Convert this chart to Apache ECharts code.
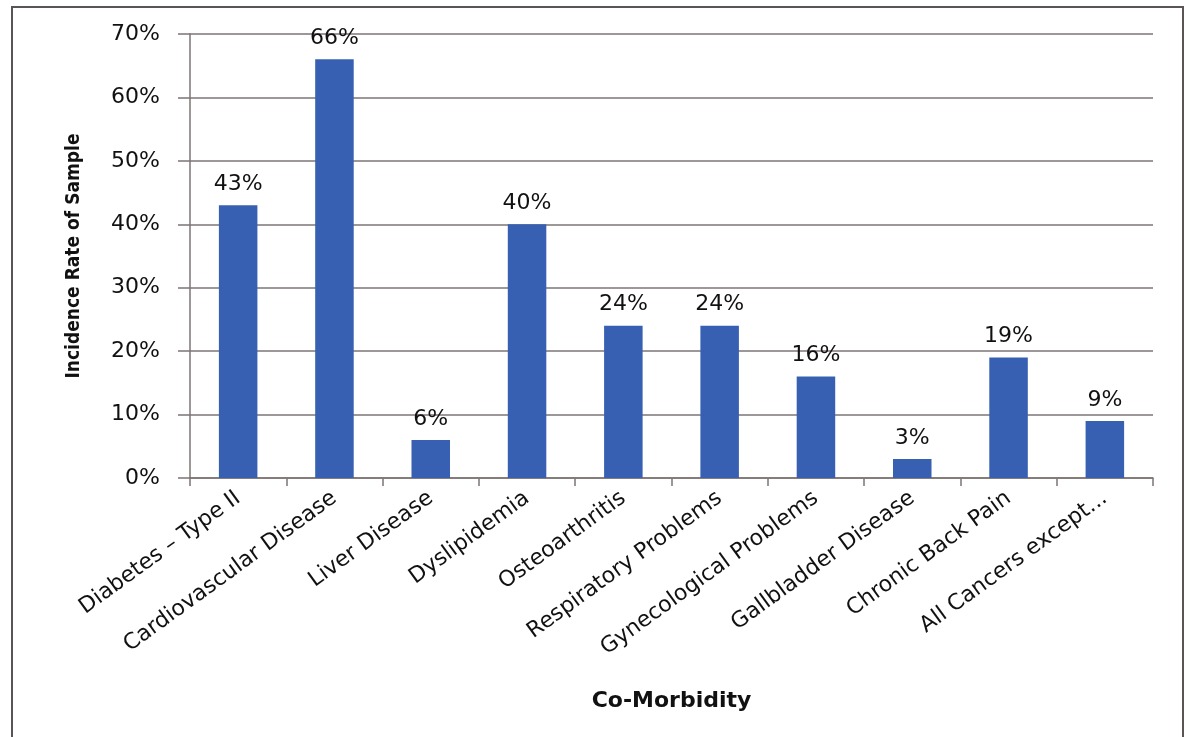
<!DOCTYPE html>
<html>
<head>
<meta charset="utf-8">
<script src="https://cdn.jsdelivr.net/npm/echarts@6/dist/echarts.min.js"></script>
<style>
  html, body { margin: 0; padding: 0; background: #ffffff; }
  #chart { width: 1186px; height: 737px; }
</style>
</head>
<body>
<div id="chart"></div>
<script>
// Co-morbidity incidence rates (percent of sample)
const categories = [
  'Diabetes \u2013 Type II',
  'Cardiovascular Disease',
  'Liver Disease',
  'Dyslipidemia',
  'Osteoarthritis',
  'Respiratory Problems',
  'Gynecological Problems',
  'Gallbladder Disease',
  'Chronic Back Pain',
  'All Cancers except...'
];
const incidence = [43, 66, 6, 40, 24, 24, 16, 3, 19, 9];
const yTicks = { min: 0, max: 70, step: 10 };

const font = '"DejaVu Sans", "Open Sans", sans-serif';
const lineColor = '#7d7474';

const chart = echarts.init(document.getElementById('chart'), null, { renderer: 'canvas' });

chart.setOption({
  backgroundColor: '#ffffff',
  animation: false,
  graphic: [
    {
      type: 'rect',
      shape: { x: 12, y: 7, width: 1171, height: 745 },
      style: { fill: 'none', stroke: '#5a5454', lineWidth: 2 },
      silent: true
    }
  ],
  grid: { left: 190, right: 33, top: 34, bottom: 259, containLabel: false },
  xAxis: {
    type: 'category',
    data: categories,
    name: 'Co-Morbidity',
    nameLocation: 'middle',
    nameGap: 212,
    nameTextStyle: { fontFamily: font, fontSize: 22, fontWeight: 'bold', color: '#111' },
    axisLine: { show: true, lineStyle: { color: lineColor, width: 1.5 } },
    axisTick: { show: true, length: 8, alignWithLabel: false, lineStyle: { color: lineColor, width: 1.5 } },
    axisLabel: {
      rotate: 36,
      margin: 18,
      interval: 0,
      fontFamily: font,
      fontSize: 22,
      color: '#111'
    },
    splitLine: { show: false }
  },
  yAxis: {
    type: 'value',
    min: yTicks.min,
    max: yTicks.max,
    interval: yTicks.step,
    name: 'Incidence Rate of Sample',
    nameLocation: 'middle',
    nameGap: 106,
    nameRotate: 90,
    nameTextStyle: {
      fontFamily: '"DejaVu Sans Condensed", "Liberation Sans Narrow", "Open Sans", sans-serif',
      fontSize: 19,
      fontWeight: 'bold',
      color: '#111'
    },
    axisLine: { show: true, lineStyle: { color: lineColor, width: 1.5 } },
    axisTick: { show: true, length: 12, inside: false, lineStyle: { color: lineColor, width: 1.5 } },
    axisLabel: {
      formatter: '{value}%',
      margin: 30,
      fontFamily: font,
      fontSize: 22,
      color: '#111'
    },
    splitLine: { show: true, lineStyle: { color: lineColor, width: 1.5 } }
  },
  series: [
    {
      type: 'bar',
      data: incidence,
      barWidth: '40%',
      itemStyle: { color: '#3860b2' },
      label: {
        show: true,
        position: 'top',
        distance: 10,
        formatter: '{c}%',
        fontFamily: font,
        fontSize: 22,
        color: '#111'
      }
    }
  ]
});
</script>
</body>
</html>
